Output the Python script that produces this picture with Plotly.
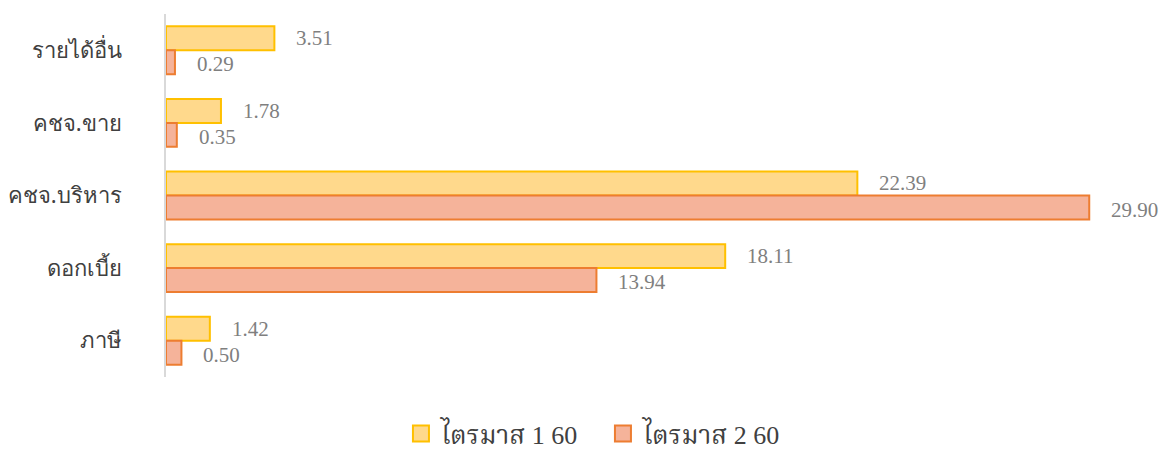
import plotly.graph_objects as go

categories = ["รายได้อื่น", "คชจ.ขาย", "คชจ.บริหาร", "ดอกเบี้ย", "ภาษี"]
q1_60 = [3.51, 1.78, 22.39, 18.11, 1.42]
q2_60 = [0.29, 0.35, 29.90, 13.94, 0.50]
series_names = ["ไตรมาส 1 60", "ไตรมาส 2 60"]
fills = ["#FFD98C", "#F5B39A"]
edges = ["#FFC000", "#ED7D31"]

fig = go.Figure()
for vals, name, fc, ec in zip((q1_60, q2_60), series_names, fills, edges):
    fig.add_trace(go.Bar(
        y=categories, x=vals, orientation="h", name=name, showlegend=False,
        marker=dict(color=fc, line=dict(color=ec, width=2)),
    ))
# legend entries with larger square swatches
for name, fc, ec in zip(series_names, fills, edges):
    fig.add_trace(go.Scatter(
        x=[None], y=[None], mode="markers", name=name,
        marker=dict(symbol="square", size=16, color=fc, line=dict(color=ec, width=2)),
    ))

annotations = []
for vals, off in ((q1_60, -0.18), (q2_60, 0.18)):
    for i, v in enumerate(vals):
        annotations.append(dict(
            x=v, y=i + off, xref="x", yref="y", text=f"{v:.2f}",
            showarrow=False, xanchor="left", xshift=20, yshift=-1,
            font=dict(family="Liberation Serif, Times New Roman, serif", size=21, color="#7F7F7F"),
        ))

fig.update_layout(
    width=1153, height=441,
    margin=dict(l=158, r=10, t=6, b=72, autoexpand=False),
    plot_bgcolor="white", paper_bgcolor="white",
    barmode="group", bargap=0.34, bargroupgap=0.0,
    annotations=annotations,
    showlegend=True,
    legend=dict(
        orientation="h", xref="container", x=0.516, xanchor="center",
        yref="container", y=0.035, yanchor="middle",
        font=dict(family="Liberation Serif, Noto Serif Thai, serif", size=26, color="#404040"),
        traceorder="normal", itemwidth=30, itemsizing="trace",
        entrywidth=157, entrywidthmode="pixels",
    ),
    xaxis=dict(range=[0, 31.9], showgrid=False, showticklabels=False, zeroline=False,
               showline=False, automargin=False),
    yaxis=dict(type="category", autorange="reversed", showgrid=False,
               showline=True, linecolor="#D9D9D9", linewidth=2, automargin=False,
               ticks="", ticklabelstandoff=38,
               tickfont=dict(family="Noto Sans, Tahoma, sans-serif", size=22, color="#404040")),
)

fig.write_html("out.html")
